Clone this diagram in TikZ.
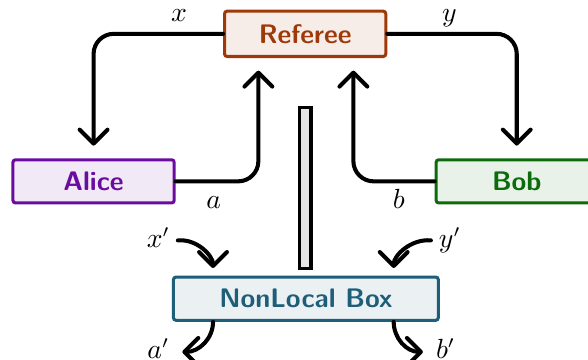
\documentclass[tikz,border=0pt]{standalone}
\usetikzlibrary{arrows.meta}

\definecolor{refcol}{RGB}{158,58,10}
\definecolor{alicecol}{RGB}{106,12,160}
\definecolor{bobcol}{RGB}{12,108,12}
\definecolor{boxcol}{RGB}{30,94,120}

\begin{document}
\begin{tikzpicture}[
    party/.style={draw=#1, fill=#1!9, text=#1, line width=1.2pt, rounded corners=1pt,
                  minimum width=2.24cm, minimum height=0.6cm, inner sep=0pt,
                  font=\fontsize{10.6}{12.7}\selectfont\sffamily\bfseries},
    lbl/.style={font=\fontsize{10.6}{12.7}\selectfont, inner sep=1pt,
                text height=1.5ex, text depth=.25ex},
    flow/.style={line width=1.6pt, rounded corners=8pt, line cap=round,
                 -{Straight Barb[length=5.5pt,width=11pt,round]}, shorten >=5pt},
    curvy/.style={line width=1.6pt, line cap=round,
                 -{Straight Barb[length=5.5pt,width=11pt,round]}}
  ]
  \clip (0,0) rectangle (8.17,-5.0);

  % players
  \node [party=refcol, minimum height=0.63cm] (referee) at (4.24,-0.47) {Referee};
  \node [party=alicecol] (alice) at (1.30,-2.52) {Alice};
  \node [party=bobcol] (bob) at (7.18,-2.52) {Bob};
  \node [party=boxcol, minimum width=3.68cm] (nlbox) at (4.25,-4.15) {NonLocal Box};

  % wall between the two games
  \node [draw, fill=black!10, line width=1.3pt, minimum width=0.16cm, minimum height=2.24cm,
         inner sep=0pt] (wall) at (4.24,-2.61) {};

  % questions and answers
  \draw[flow] (referee.west) -| (alice.north) node [lbl, pos=0.17, above=2pt] (lx) {$x$};
  \draw[flow] (referee.east) -| (bob.north) node [lbl, pos=0.24, above=2pt] (ly) {$y$};
  \draw[flow] (alice.east) -| ([xshift=-0.65cm]referee.south) node [lbl, pos=0.23, below=2.3pt] (la) {$a$};
  \draw[flow] (bob.west) -| ([xshift=0.67cm]referee.south) node [lbl, pos=0.22, below=2.3pt] (lb) {$b$};

  % box inputs and outputs
  \node [lbl] (xp) at (2.20,-3.34) {$x'$};
  \node [lbl] (yp) at (6.25,-3.34) {$y'$};
  \node [lbl] (ap) at (2.20,-4.89) {$a'$};
  \node [lbl] (bp) at (6.19,-4.89) {$b'$};

  \draw[curvy, shorten >=3pt] ([xshift=2pt]xp.east) to[out=5, in=90] ([xshift=-1.29cm]nlbox.north);
  \draw[curvy, shorten >=3pt] ([xshift=-2pt]yp.west) to[out=175, in=90] ([xshift=1.22cm]nlbox.north);
  \draw[curvy] ([xshift=-1.29cm]nlbox.south) to[out=-90, in=0] ([xshift=4pt]ap.east);
  \draw[curvy] ([xshift=1.22cm]nlbox.south) to[out=-90, in=180] ([xshift=-4pt]bp.west);
\end{tikzpicture}
\end{document}
